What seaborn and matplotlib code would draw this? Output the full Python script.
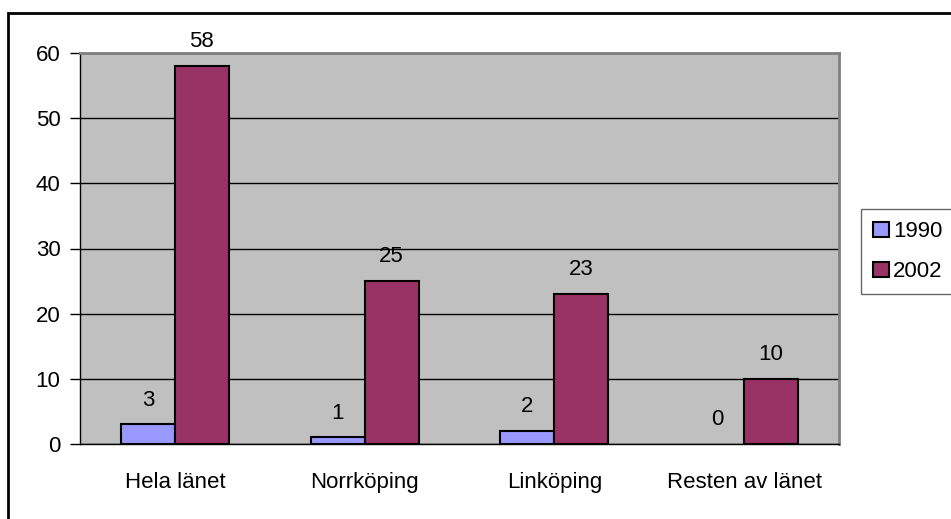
import numpy as np
import pandas as pd
import matplotlib
matplotlib.use("Agg")
import matplotlib.pyplot as plt
import seaborn as sns
from matplotlib.patches import Rectangle

# data
categories = ["Hela länet", "Norrköping", "Linköping", "Resten av länet"]
years = ["1990", "2002"]
values_1990 = [3, 1, 2, 0]
values_2002 = [58, 25, 23, 10]
colors = ["#9999FF", "#993366"]

df = pd.DataFrame({
    "omrade": categories * 2,
    "ar": [years[0]] * 4 + [years[1]] * 4,
    "antal": values_1990 + values_2002,
})

sns.set_style("white")
plt.rcParams["font.family"] = ["Liberation Sans", "DejaVu Sans"]
plt.rcParams["text.color"] = "black"
plt.rcParams["xtick.color"] = "black"
plt.rcParams["ytick.color"] = "black"

fs = 16

fig = plt.figure(figsize=(9.51, 5.19), dpi=100)
ax = fig.add_axes([80 / 951, 75 / 519, 759 / 951, 391 / 519])

ax.set_facecolor("#C0C0C0")
ax.set_axisbelow(True)
ax.yaxis.grid(True, color="black", linewidth=1)

sns.barplot(
    data=df, x="omrade", y="antal", hue="ar",
    palette=colors, saturation=1, width=0.57, edgecolor="black", linewidth=1.5,
    errorbar=None, ax=ax, legend=True,
)

for cont in ax.containers:
    ax.bar_label(cont, padding=10, fontsize=fs)
    for bar in cont:
        if bar.get_height() == 0:
            bar.set_linewidth(0)

ax.set_ylim(0, 60)
ax.set_xlim(-0.5, 3.5)
ax.set_yticks(range(0, 61, 10))
ax.set_xlabel("")
ax.set_ylabel("")

# tick marks at category boundaries
ax.set_xticks(np.arange(-0.5, 4, 1), minor=True)
ax.tick_params(axis="x", which="major", length=0, pad=20, labelsize=fs)
ax.tick_params(axis="x", which="minor", length=7, width=1, color="black", direction="out")
ax.tick_params(axis="y", length=7, width=1, color="black", direction="out", pad=7, labelsize=fs)
ax.tick_params(bottom=True, left=True)

for side in ["left", "bottom"]:
    ax.spines[side].set_color("black")
    ax.spines[side].set_linewidth(1)
for side in ["top", "right"]:
    ax.spines[side].set_color("#808080")
    ax.spines[side].set_linewidth(2)

# legend
handles, labels = ax.get_legend_handles_labels()
ax.legend(
    handles, labels, loc="upper left",
    bbox_to_anchor=(861 / 951, 1 - 209 / 519), bbox_transform=fig.transFigure,
    frameon=True, fancybox=False, edgecolor="#404040", fontsize=fs,
    handlelength=0.7, handleheight=0.7, handletextpad=0.2,
    borderpad=0.55, labelspacing=0.85, borderaxespad=0,
)
ax.get_legend().get_frame().set_linewidth(1)

# outer chart border
fig.patches.append(Rectangle(
    (8 / 951, -0.05), 1.2, 1 - 13 / 519 + 0.05,
    transform=fig.transFigure, fill=False, edgecolor="black", linewidth=2,
))

fig.savefig("out.png", dpi=100)
